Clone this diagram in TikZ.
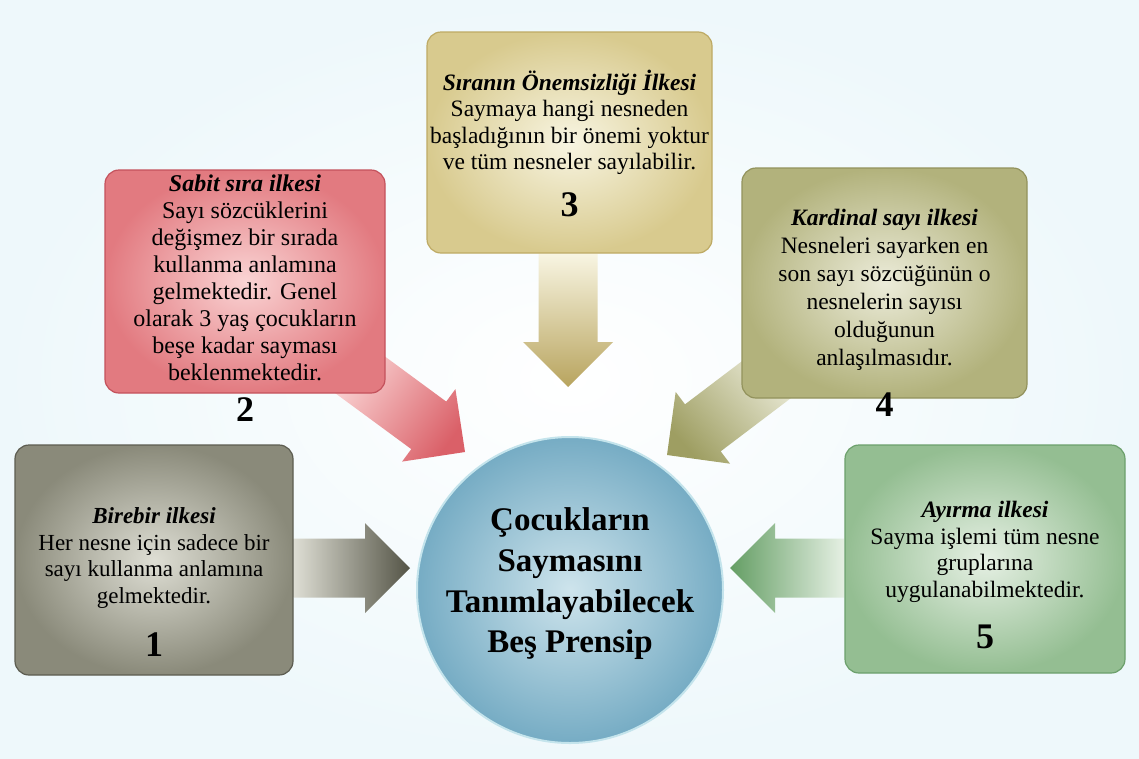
\documentclass[tikz,border=0pt]{standalone}
\usepackage{fontspec}
\setmainfont{Liberation Serif}
\usepackage{xcolor}
\usepackage{tikz}
\usetikzlibrary{calc,positioning}

\definecolor{bgcol}{RGB}{238,248,251}
\definecolor{gryin}{RGB}{222,222,212}
\definecolor{gryout}{RGB}{138,138,122}
\definecolor{gryln}{RGB}{92,92,80}
\definecolor{gryarr}{RGB}{84,84,70}
\definecolor{redin}{RGB}{250,212,212}
\definecolor{redout}{RGB}{226,122,128}
\definecolor{redln}{RGB}{196,82,92}
\definecolor{redarr}{RGB}{218,96,104}
\definecolor{goldin}{RGB}{248,245,226}
\definecolor{goldout}{RGB}{216,202,142}
\definecolor{goldln}{RGB}{190,170,100}
\definecolor{goldarr}{RGB}{184,164,94}
\definecolor{olvin}{RGB}{236,236,218}
\definecolor{olvout}{RGB}{178,178,124}
\definecolor{olvln}{RGB}{146,146,92}
\definecolor{olvarr}{RGB}{158,158,98}
\definecolor{grnin}{RGB}{230,240,228}
\definecolor{grnout}{RGB}{148,190,146}
\definecolor{grnln}{RGB}{108,160,108}
\definecolor{grnarr}{RGB}{100,158,100}
\definecolor{cirin}{RGB}{206,228,236}
\definecolor{cirout}{RGB}{118,172,196}

\pgfdeclarelayer{back}
\pgfsetlayers{back,main}

% block arrow: start, tip, start colour, tip colour, shading angle
\newcommand{\blockarrow}[5]{%
  \coordinate (ba-h) at ($(#2)!45pt!(#1)$);
  \shade[left color=#3, right color=#4, shading angle=#5]
    ($(#1)!29.5pt!90:(#2)$) -- ($(ba-h)!29.5pt!-90:(#1)$) -- ($(ba-h)!45pt!-90:(#1)$)
    -- (#2) -- ($(ba-h)!45pt!90:(#1)$) -- ($(ba-h)!29.5pt!90:(#1)$)
    -- ($(#1)!29.5pt!-90:(#2)$) -- cycle;
}

\tikzset{
  box/.style={rectangle, rounded corners=14pt, minimum width=280pt, minimum height=230pt, line width=1.2pt},
  info/.style={align=center, inner sep=0pt, font=\fontsize{23}{26.5}\selectfont},
  num/.style={inner sep=0pt, font=\fontsize{36}{36}\selectfont\bfseries},
}

\begin{document}
\begin{tikzpicture}[x=1pt,y=-1pt,line join=round]
\useasboundingbox (0,0) rectangle (1139,758);
\begin{pgfonlayer}{back}
\shade[inner color=white, outer color=bgcol] (0,0) rectangle (1139,758);
\end{pgfonlayer}

% boxes
\node[box, draw=gryln, inner color=gryin, outer color=gryout, minimum width=278pt] (b1) at (154,560) {};
\node[box, draw=redln, inner color=redin, outer color=redout, minimum height=223pt] (b2) at (245,281.5) {};
\node[box, draw=goldln, inner color=goldin, outer color=goldout, minimum width=285pt, minimum height=221pt] (b3) at (569.5,142.5) {};
\node[box, draw=olvln, inner color=olvin, outer color=olvout, minimum width=285pt] (b4) at (884.5,283) {};
\node[box, draw=grnln, inner color=grnin, outer color=grnout, minimum height=228pt] (b5) at (985,559) {};

% centre
\node[circle, minimum size=306pt, draw={rgb,255:red,196;green,228;blue,236}, line width=2pt,
      inner color=cirin, outer color=cirout] (c) at (570,590) {};
\node[align=center, inner sep=0pt, font=\fontsize{33}{40.7}\selectfont\bfseries] (ct) at (570,584)
  {Çocukların\\Saymasını\\Tanımlayabilecek\\Beş Prensip};

% arrow tips
\coordinate (tip1) at (410,568);
\coordinate (tip2) at (465,452);
\coordinate (tip3) at (568,387);
\coordinate (tip4) at (667,455);
\coordinate (tip5) at (730,568);

\begin{pgfonlayer}{back}
\blockarrow{b1.east |- tip1}{tip1}{gryin}{gryarr}{90}
\blockarrow{$(tip2)!140pt!(b2.south east)$}{tip2}{redin}{redarr}{54}
\blockarrow{tip3 |- b3.south}{tip3}{goldin}{goldarr}{0}
\blockarrow{$(tip4)!140pt!(b4.south west)$}{tip4}{olvin}{olvarr}{-48}
\blockarrow{b5.west |- tip5}{tip5}{grnin}{grnarr}{-90}
\end{pgfonlayer}

% texts
\node[info] (t1) at (154,558) {\textbf{\textit{Birebir ilkesi}}\\Her nesne için sadece bir\\sayı kullanma anlamına\\gelmektedir.};
\node[num] (n1) at (154,645) {1};
\node[info, font=\fontsize{24}{27}\selectfont] (t2) at (245,278) {\textbf{\textit{Sabit sıra ilkesi}}\\Sayı sözcüklerini\\değişmez bir sırada\\kullanma anlamına\\gelmektedir. Genel\\olarak 3 yaş çocukların\\beşe kadar sayması\\beklenmektedir.};
\node[num] (n2) at (245,410) {2};
\node[info, font=\fontsize{23.5}{26.5}\selectfont] (t3) at (569.5,122.5) {\textbf{\textit{Sıranın Önemsizliği İlkesi}}\\Saymaya hangi nesneden\\başladığının bir önemi yoktur\\ve tüm nesneler sayılabilir.};
\node[num] (n3) at (569.5,205) {3};
\node[info, font=\fontsize{23.5}{28}\selectfont] (t4) at (884.5,290) {\textbf{\textit{Kardinal sayı ilkesi}}\\Nesneleri sayarken en\\son sayı sözcüğünün o\\nesnelerin sayısı\\olduğunun\\anlaşılmasıdır.};
\node[num] (n4) at (884.5,405) {4};
\node[info, font=\fontsize{23.5}{26.7}\selectfont] (t5) at (985,552) {\textbf{\textit{Ayırma ilkesi}}\\Sayma işlemi tüm nesne\\gruplarına\\uygulanabilmektedir.};
\node[num] (n5) at (985,637) {5};
\end{tikzpicture}
\end{document}
